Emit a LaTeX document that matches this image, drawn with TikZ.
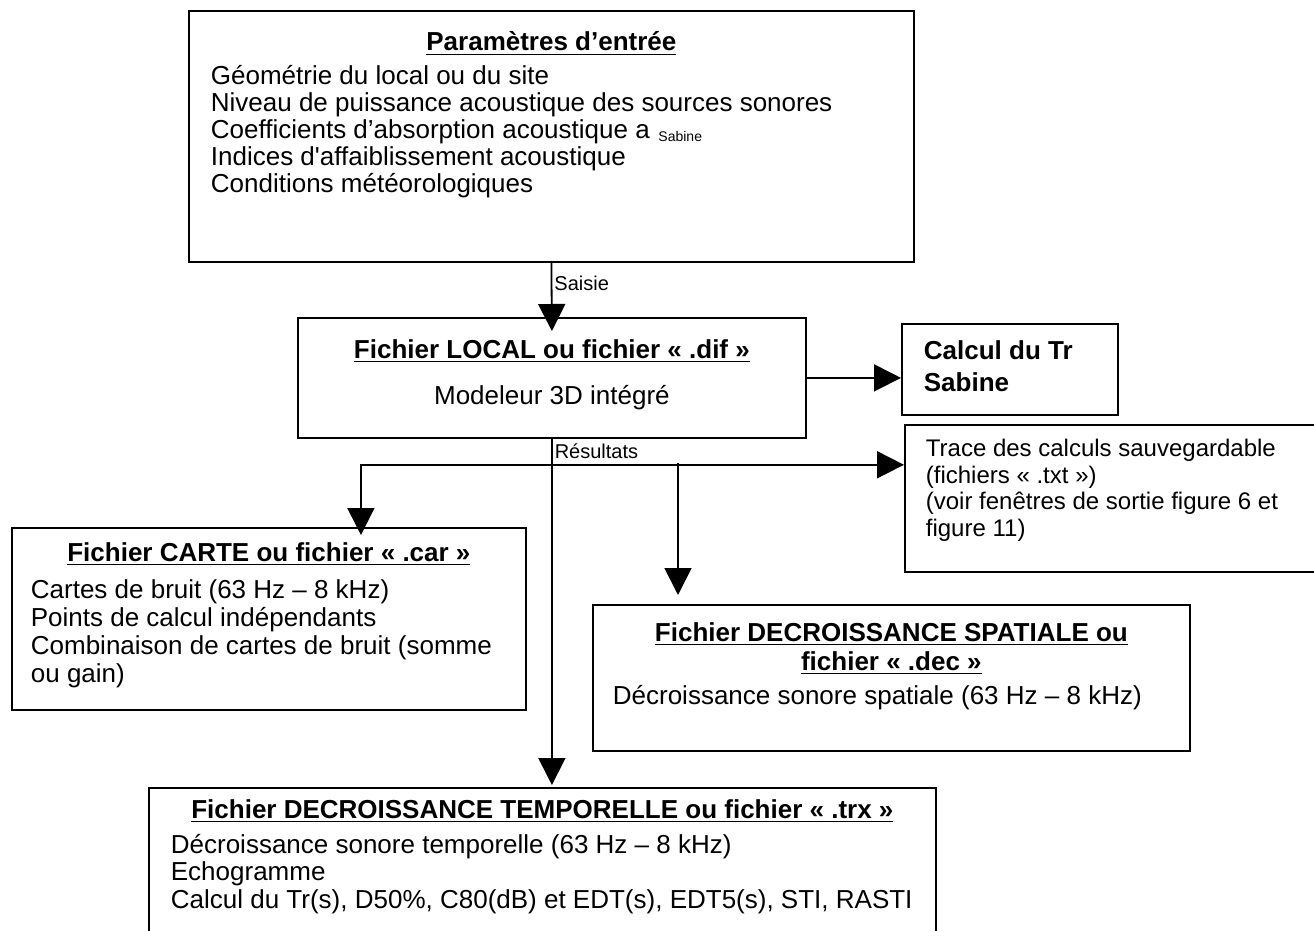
\documentclass[tikz,border=0pt]{standalone}
\usepackage{fontspec}
\setmainfont{Liberation Sans}
\usetikzlibrary{positioning, arrows.meta, calc}

\newcommand{\titre}[1]{\textbf{\underline{#1}}}

\tikzset{
    boite/.style={draw, line width=0.9pt, inner sep=0pt, anchor=north west},
    fleche/.style={line width=0.9pt, -{Triangle[length=13.5pt, width=13.5pt]}},
    etiquette/.style={right, inner sep=1pt, font=\fontsize{10}{12}\selectfont},
}

\begin{document}
\begin{tikzpicture}[x=0.5pt, y=-0.5pt, font=\fontsize{13}{13.5}\selectfont]
    \useasboundingbox (0,0) rectangle (1314,931);

    % boites
    \node[boite] (params) at (188,10) {\parbox[t][125.5pt][t]{362.5pt}{%
        \vspace*{10.5pt}\centering\titre{Paramètres d’entrée}\par
        \vspace{3.5pt}\raggedright\leftskip=11pt
        Géométrie du local ou du site\\
        Niveau de puissance acoustique des sources sonores\\
        Coefficients d’absorption acoustique a\,\,\raisebox{-1.5pt}{\fontsize{7}{8}\selectfont Sabine}\\
        Indices d\textquotesingle affaiblissement acoustique\\
        Conditions météorologiques}};

    \node[boite] (local) at (297,317) {\parbox[t][60pt][t]{254pt}{%
        \vspace*{11pt}\centering\titre{Fichier LOCAL ou fichier «~.dif~»}\par
        \vspace{9.5pt}Modeleur 3D intégré}};

    \node[boite] (calcul) at (901,323) {\parbox[t][45.5pt][t]{108pt}{%
        \fontsize{13}{16}\selectfont\bfseries
        \vspace*{8.5pt}\leftskip=11pt Calcul du Tr\\Sabine}};

    \node[boite] (trace) at (904,424) {\parbox[t][73.5pt][t]{215pt}{%
        \fontsize{12}{13.25}\selectfont
        \vspace*{7.2pt}\leftskip=10.5pt
        Trace des calculs sauvegardable\\
        (fichiers «~.txt~»)\\
        (voir fenêtres de sortie figure 6 et\\
        figure 11)}};

    \node[boite] (carte) at (11,527) {\parbox[t][91pt][t]{257pt}{%
        \fontsize{13}{14}\selectfont
        \vspace*{7.5pt}\centering\titre{Fichier CARTE ou fichier «~.car~»}\par
        \vspace{4.5pt}\raggedright\leftskip=9.5pt
        Cartes de bruit (63 Hz – 8 kHz)\\
        Points de calcul indépendants\\
        Combinaison de cartes de bruit (somme\\
        ou gain)}};

    \node[boite] (spatial) at (592,604) {\parbox[t][73pt][t]{298.5pt}{%
        \fontsize{13}{14.5}\selectfont
        \vspace*{9pt}\centering\titre{Fichier DECROISSANCE SPATIALE ou}\\
        \titre{fichier «~.dec~»}\par
        \vspace{2.5pt}\raggedright\leftskip=10pt
        Décroissance sonore spatiale (63 Hz – 8 kHz)}};

    \node[boite] (temporelle) at (148,787) {\parbox[t][80pt][t]{393.5pt}{%
        \fontsize{13}{13.75}\selectfont
        \vspace*{6pt}\centering\titre{Fichier DECROISSANCE TEMPORELLE ou fichier «~.trx~»}\par
        \vspace{3.5pt}\raggedright\leftskip=11pt
        Décroissance sonore temporelle (63 Hz – 8 kHz)\\
        Echogramme\\
        Calcul du Tr(s), D50\%, C80(dB) et EDT(s), EDT5(s), STI, RASTI}};

    % liaisons
    \coordinate (hub) at ($(local.south)+(0,26)$);
    \coordinate (branchdec) at (678,463);

    \draw[fleche] (params.south) -- node[etiquette, pos=0.3] {Saisie} ($(local.north)+(0,14)$);
    \draw[fleche] (local.east) -- (local.east -| calcul.west);
    \draw[fleche] (local.south) -- node[etiquette, pos=0.037] {Résultats} ($(local.south |- temporelle.north)+(0,-2)$);
    \draw[fleche] (hub) -| ($(carte.north)+(92,8)$);
    \draw[fleche] (hub) -- (hub -| trace.west);
    \draw[fleche] (branchdec) -- ($(branchdec |- spatial.north)+(0,-9)$);
\end{tikzpicture}
\end{document}
